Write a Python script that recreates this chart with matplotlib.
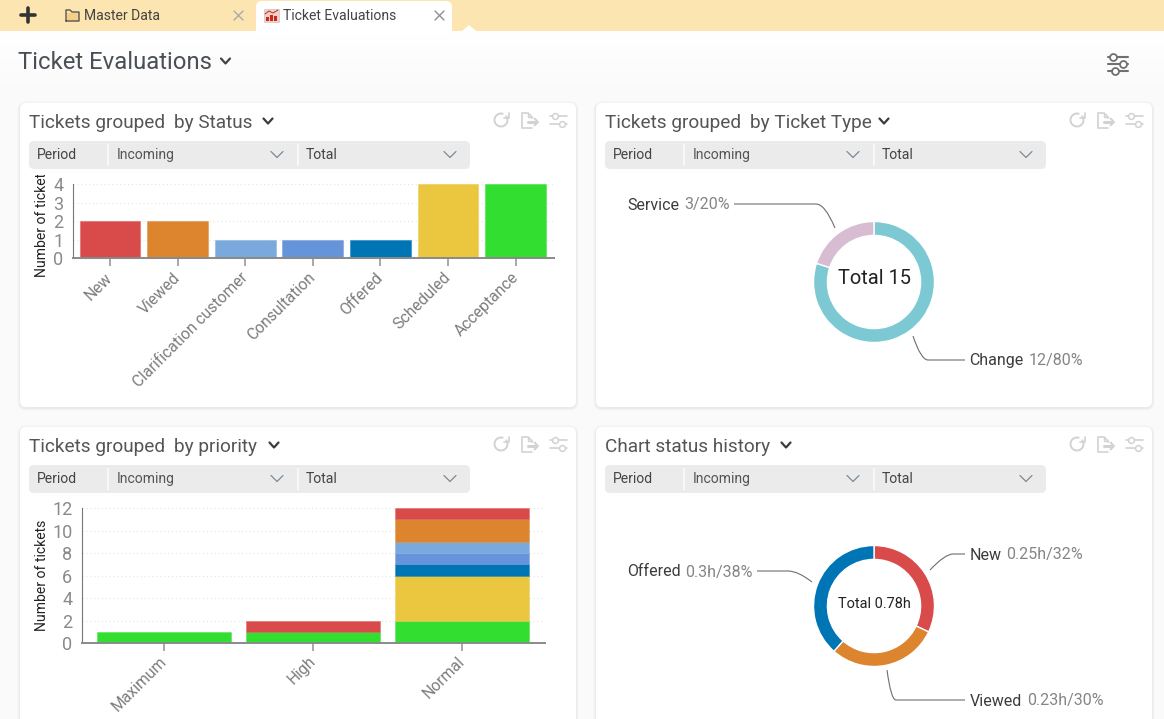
import matplotlib
matplotlib.use("Agg")
import numpy as np
import matplotlib.pyplot as plt
from matplotlib.colors import to_rgba
from matplotlib.patches import FancyBboxPatch, Rectangle, PathPatch
from matplotlib.path import Path
from matplotlib.transforms import ScaledTranslation

plt.rcParams['font.family'] = ['Roboto', 'DejaVu Sans']

# ================= data =================
RED, ORANGE, LIGHT_BLUE = '#D94B4B', '#DC852E', '#7AAADD'
MID_BLUE, DARK_BLUE, YELLOW, GREEN = '#6594DA', '#0075B5', '#EBC63F', '#32DE2F'

status_names = ['New', 'Viewed', 'Clarification customer', 'Consultation', 'Offered', 'Scheduled', 'Acceptance']
status_counts = [2, 2, 1, 1, 1, 4, 4]
status_colors = [RED, ORANGE, LIGHT_BLUE, MID_BLUE, DARK_BLUE, YELLOW, GREEN]
status_ticks = [0, 1, 2, 3, 4]

priority_names = ['Maximum', 'High', 'Normal']
priority_ticks = [0, 2, 4, 6, 8, 10, 12]
# stacks bottom to top
stack_colors = [GREEN, YELLOW, DARK_BLUE, MID_BLUE, LIGHT_BLUE, ORANGE, RED]
stack_acceptance = [1, 1, 2]
stack_scheduled = [0, 0, 4]
stack_offered = [0, 0, 1]
stack_consultation = [0, 0, 1]
stack_clarification = [0, 0, 1]
stack_viewed = [0, 0, 2]
stack_new = [0, 1, 1]

type_names = ['Change', 'Service']
type_counts = [12, 3]
type_shares = ['12/80%', '3/20%']
type_colors = ['#7CC9D4', '#D7BCD2']

history_names = ['New', 'Viewed', 'Offered']
history_hours = [0.25, 0.23, 0.30]
history_shares = ['0.25h/32%', '0.23h/30%', '0.3h/38%']
history_colors = [RED, ORANGE, DARK_BLUE]

W, H = 1164, 719
DARK = '#484848'
GREY = '#858585'
ICON = '#D2D2D2'


def pt(px):
    return px * 0.72


fig = plt.figure(figsize=(W / 100, H / 100), dpi=100, facecolor='#FAFAFA')
ui = fig.add_axes([0, 0, 1, 1], zorder=0)
ui.set_xlim(0, W)
ui.set_ylim(H, 0)
ui.axis('off')
top = fig.add_axes([0, 0, 1, 1], zorder=5)
top.set_xlim(0, W)
top.set_ylim(H, 0)
top.axis('off')
top.patch.set_alpha(0)


def label(x, y, s, size, color=DARK, ax=ui, **kw):
    kw.setdefault('va', 'baseline')
    return ax.text(x, y, s, fontsize=pt(size), color=color, **kw)


def stroke(xs, ys, color=DARK, lw=1.0, ax=ui, **kw):
    ax.plot(xs, ys, color=color, lw=lw, solid_capstyle='round', **kw)


def chevron(x, y, w, h, color=DARK, lw=1.6):
    stroke([x - w, x, x + w], [y - h, y + h, y - h], color, lw)


def round_box(x, y, w, h, r, fc, ec='none', lw=0, z=1):
    ui.add_patch(FancyBboxPatch((x + r, y + r), w - 2 * r, h - 2 * r,
                                boxstyle=f'round,pad={r},rounding_size={r}',
                                fc=fc, ec=ec, lw=lw, zorder=z))


def refresh(x, y):
    t = np.radians(np.linspace(-35, 285, 40))
    stroke(x + 6.5 * np.cos(t), y + 6.5 * np.sin(t), ICON, 1.4)
    stroke([x + 7.5, x + 7.5, x + 2.5], [y - 7.5, y - 2, y - 2], ICON, 1.2)


def export(x, y):
    # page with an arrow leaving it on the right
    stroke([x + 5, x + 5, x + 1, x - 5, x - 5, x + 5],
           [y - 3, y - 4, y - 8, y - 8, y + 7, y + 7], ICON, 1.2)
    stroke([x + 1, x + 1, x + 5], [y - 8, y - 4, y - 4], ICON, 1.0)
    stroke([x + 1, x + 9], [y + 1, y + 1], ICON, 2.2)
    stroke([x + 7.5, x + 11, x + 7.5], [y - 2.5, y + 1, y + 4.5], ICON, 1.4)


# ================= page chrome =================
grad = np.linspace(1, 0, 64).reshape(-1, 1)
ui.imshow(np.dstack([np.ones((64, 1, 3)), grad]), extent=(0, W, 100, 31), aspect='auto', zorder=0)
ui.set_xlim(0, W)
ui.set_ylim(H, 0)

ui.add_patch(Rectangle((0, 0), W, 31, fc='#FCE5B0', ec='none', zorder=1))
ui.add_patch(Rectangle((52.5, 4), 0.6, 23, fc='#F5EDD8', ec='none', zorder=1))
stroke([21, 35], [15, 15], '#333333', 2.6)
stroke([28, 28], [8, 22], '#333333', 2.6)
# folder tab
ui.add_patch(Rectangle((66.5, 12.5), 12, 8.5, fc='#F5CF85', ec='none', zorder=2))
stroke([66, 66, 70, 72, 79, 79, 66], [21, 10, 10, 12, 12, 21, 21], '#555555', 1.0, zorder=3)
label(84, 20.5, 'Master Data', 14, '#444444')
stroke([234, 243], [11, 20], '#A9A9A9', 1.0)
stroke([243, 234], [11, 20], '#A9A9A9', 1.0)
# active tab
round_box(256, 1, 196, 33, 6, 'white', z=2)
ui.add_patch(Rectangle((256, 20), 196, 14, fc='white', ec='none', zorder=2))
ui.add_patch(plt.Polygon([[462, 31], [469, 25], [476, 31]], fc='white', ec='none', zorder=2))
ui.add_patch(Rectangle((264, 9), 15, 13, fc='#F4CFC6', ec='#C9C9C9', lw=0.5, zorder=3))
for bx, bh in [(266, 4), (270, 6), (274, 5)]:
    ui.add_patch(Rectangle((bx, 21 - bh), 3, bh, fc='#C62A1E', ec='none', zorder=4))
stroke([265, 269, 273, 278], [14, 11, 13, 10], '#C62A1E', 0.7, zorder=4)
label(283, 20.5, 'Ticket Evaluations', 14, '#444444', zorder=4)
stroke([435, 444], [11, 20], '#8F8F8F', 1.0, zorder=4)
stroke([444, 435], [11, 20], '#8F8F8F', 1.0, zorder=4)

label(18, 69, 'Ticket Evaluations', 23.9, '#4A4F55')
chevron(225.5, 61, 4.5, 2.5, '#444444')
for ly, kx in [(57, 1113), (64, 1123), (71, 1115)]:
    stroke([1108, 1128], [ly, ly], '#707070', 1.5)
    ui.plot([kx], [ly], 'o', ms=5, mfc='white', mec='#707070', mew=1.3, zorder=3)


def panel(x, y, title_left, title_right, chev_x):
    h = 304 if y < 400 else 320
    for grow, alpha in [(3, 0.012), (2, 0.02), (1, 0.03)]:
        round_box(x - grow, y - grow + 1, 556 + 2 * grow, h + 2 * grow, 6 + grow, (0, 0, 0, alpha))
    round_box(x, y, 556, h, 6, 'white', z=1)
    label(x + 9, y + 25, title_left, 19, '#555555')
    if title_right:
        label(x + 154, y + 25, title_right, 19, '#555555')
    chevron(chev_x, y + 18, 4.5, 2.5, '#3A3A3A')
    # icons
    refresh(x + 481, y + 17)
    export(x + 507, y + 18)
    for dy, kx in [(13, 535), (21, 542)]:
        stroke([x + 530, x + 547], [y + dy, y + dy], ICON, 1.2)
        ui.plot([x + kx], [y + dy], 'o', ms=4.2, mfc='white', mec=ICON, mew=1.1, zorder=3)
    # filter bar
    round_box(x + 9, y + 38, 441, 28, 5, '#EBEBEB', z=2)
    for sx in (x + 87, x + 277):
        ui.add_patch(Rectangle((sx, y + 41), 1.6, 22, fc='#F7F7F7', ec='none', zorder=3))
    label(x + 17, y + 56, 'Period', 14, '#444444', zorder=3)
    label(x + 97, y + 56, 'Incoming', 14, '#555555', zorder=3)
    label(x + 286, y + 56, 'Total', 14, '#444444', zorder=3)
    chevron(x + 257, y + 51.5, 6, 3, '#7A8A99', 0.9)
    chevron(x + 430, y + 51.5, 6, 3, '#7A8A99', 0.9)


panel(20, 103, 'Tickets grouped', 'by Status', 268)
panel(596, 103, 'Tickets grouped', 'by Ticket Type', 884)
panel(20, 427, 'Tickets grouped', 'by priority', 274)
panel(596, 427, 'Chart status history', '', 786)


# ================= bar charts =================
def bar_axes(left, right, y_top, y_zero, first_tick, band, n, ymax, ticks):
    ax = fig.add_axes([left / W, 1 - y_zero / H, (right - left) / W, (y_zero - y_top) / H], zorder=3)
    ax.patch.set_alpha(0)
    ax.set_xlim((left - first_tick) / band, (right - first_tick) / band)
    ax.set_ylim(0, ymax)
    ax.set_yticks(ticks)
    ax.set_xticks(range(n))
    for side in ('top', 'right'):
        ax.spines[side].set_visible(False)
    ax.spines['left'].set_color('#777777')
    ax.spines['bottom'].set_color('#8A8A8A')
    ax.spines['bottom'].set_linewidth(1.4)
    ax.grid(axis='y', color='#E4E4E4', lw=0.8, ls=(0, (1, 2.5)))
    ax.set_axisbelow(True)
    ax.tick_params(axis='y', length=0, pad=7, labelsize=pt(18), labelcolor='#8A8A8A')
    ax.tick_params(axis='x', length=6, width=1.4, color='#A8A8A8', pad=3)
    return ax


def rot_labels(ax, names, dx, dy):
    ax.set_xticklabels(names, rotation=45, ha='right', va='top', rotation_mode='anchor',
                       fontsize=pt(15.7), color='#7C7C7C')
    shift = ScaledTranslation(dx / 100, dy / 100, fig.dpi_scale_trans)
    for tick_label in ax.get_xticklabels():
        tick_label.set_transform(tick_label.get_transform() + shift)


ax1 = bar_axes(73.3, 553.8, 184, 258.3, 110, 67.6, len(status_names), 4, status_ticks)
# pale rim on every bar, same as the dashboard draws them
ax1.bar(range(len(status_names)), status_counts, width=0.9, color=status_colors,
        edgecolor=[to_rgba(c, 0.4) for c in status_colors], linewidth=0.8, clip_on=False, zorder=2)
rot_labels(ax1, status_names, -5, 1)

ax2 = bar_axes(82, 544.6, 508, 643.3, 164, 149, len(priority_names), 12, priority_ticks)
bottom = np.zeros(len(priority_names))
stacks = [stack_acceptance, stack_scheduled, stack_offered, stack_consultation,
          stack_clarification, stack_viewed, stack_new]
for values, color in zip(stacks, stack_colors):
    # zero segments would still draw their rim
    shown = [i for i, v in enumerate(values) if v > 0]
    ax2.bar(shown, [values[i] for i in shown], width=0.9, bottom=bottom[shown], color=color,
            edgecolor=to_rgba(color, 0.4), linewidth=0.6, zorder=2)
    bottom += np.array(values)
rot_labels(ax2, priority_names, -5, 2)

t1 = label(42.5, 221.5, 'Number of tickets', 14, '#222222', ha='center', va='center', rotation=90, zorder=3)
t1.set_clip_path(Rectangle((0, 174.5), 100, 120, transform=ui.transData))
t1.set_clip_on(True)
label(42.5, 575, 'Number of tickets', 14, '#222222', ha='center', va='center', rotation=90, zorder=3)


# ================= donuts =================
def donut(cx, cy, r, values, colors, hole):
    ax = fig.add_axes([(cx - r) / W, 1 - (cy + r) / H, 2 * r / W, 2 * r / H], zorder=3)
    ax.pie(values, colors=colors, startangle=90, counterclock=False, radius=1,
           wedgeprops=dict(width=1 - hole, ec='white', lw=1.0))
    ax.set_xlim(-1, 1)
    ax.set_ylim(-1, 1)
    ax.patch.set_alpha(0)
    return ax


donut(874, 282, 60.5, type_counts, type_colors, 0.77)
donut(874, 606, 60.5, history_hours, history_colors, 0.77)
label(874, 284.5, f'Total {sum(type_counts)}', 20, '#222222', ax=top, ha='center')
label(874, 608, f'Total {sum(history_hours):.2f}h', 14.5, '#222222', ax=top, ha='center')


def leader(points):
    # start on the ring, curve, then straight run to the text
    codes = [Path.MOVETO, Path.CURVE3, Path.CURVE3, Path.LINETO]
    top.add_patch(PathPatch(Path(points, codes), fc='none', ec='#6E6E6E', lw=0.8))


def callout(x_name, x_val, y, name, val):
    label(x_name, y + 5.5, name, 16, '#3C3C3C', ax=top)
    label(x_val, y + 5.5, val, 16, GREY, ax=top)


callout(627.5, 684, 204, type_names[1], type_shares[1])
callout(969.5, 1029, 360, type_names[0], type_shares[0])
leader([(835, 228), (825, 204), (816, 204), (734, 204)])
leader([(913, 336), (921, 360), (928, 360), (965, 360)])

callout(969.5, 1006, 554, history_names[0], history_shares[0])
callout(969.5, 1027, 700, history_names[1], history_shares[1])
callout(627.5, 685.5, 571, history_names[2], history_shares[2])
leader([(930, 570), (945, 554), (953, 554), (965, 554)])
leader([(887, 670), (891, 700), (896, 700), (965, 700)])
leader([(812, 582), (798, 571), (788, 571), (757, 571)])

fig.savefig('out.png', dpi=100, facecolor=fig.get_facecolor())
